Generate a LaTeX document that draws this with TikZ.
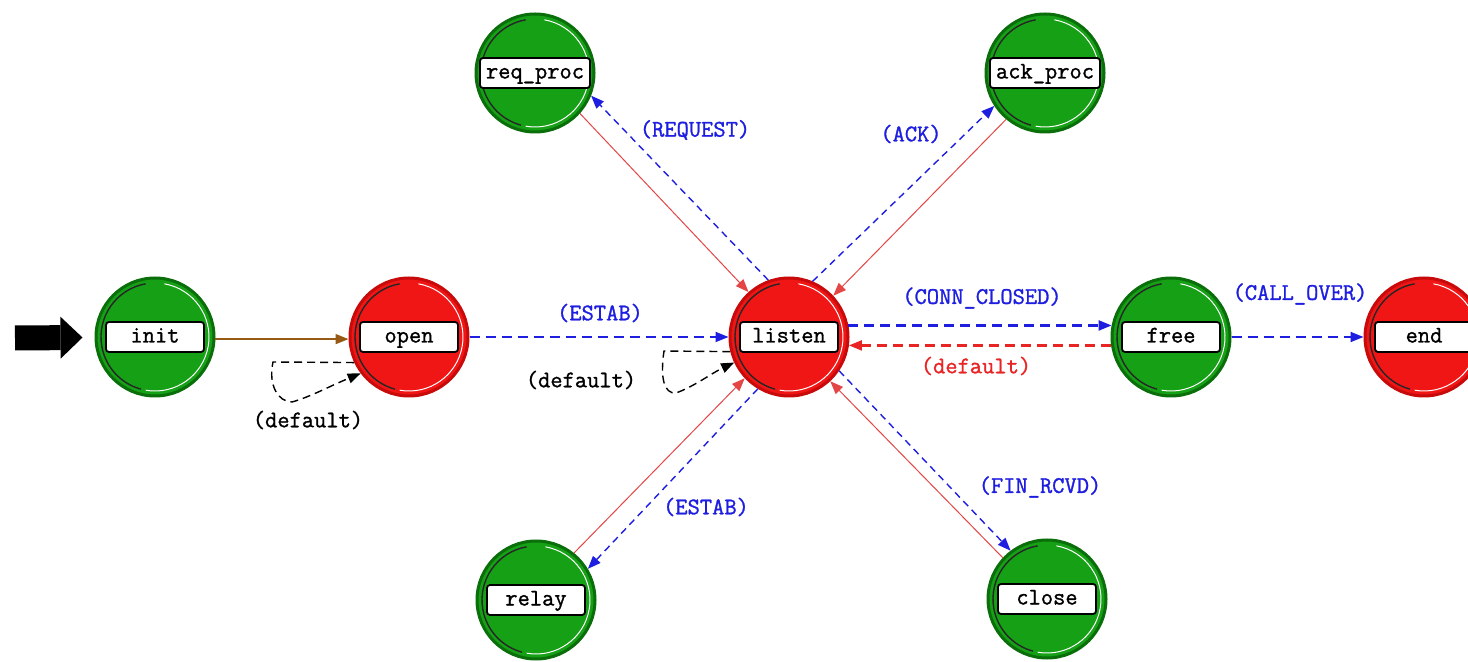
\documentclass[tikz,border=0pt]{standalone}
\usepackage{fontspec}
\newfontfamily\lblfont{Latin Modern Mono}[FakeBold=1.2]
\usetikzlibrary{arrows.meta}
\definecolor{stgreen}{RGB}{22,160,22}
\definecolor{stgreenrim}{RGB}{10,110,10}
\definecolor{stred}{RGB}{240,22,22}
\definecolor{stredrim}{RGB}{200,10,10}
\definecolor{edgeblue}{RGB}{30,30,225}
\definecolor{edgered}{RGB}{232,36,36}
\definecolor{softred}{RGB}{228,70,70}
\definecolor{brownline}{RGB}{150,90,20}
\newcommand\fsmstate[5]{%
  \node[fsmcircle, fill=#3, draw=#4] (#1) at (#2) {};
  \draw[black!85, line width=0.7pt] (#1.center) ++(100:27pt) arc (100:255:27pt);
  \draw[white, line width=0.5pt] (#1.center) ++(80:27pt) arc (80:-100:27pt);
  \node[namebox] (#1-name) at (#1.center) {#5};
}
\tikzset{
  x=0.5pt, y=-0.5pt,
  fsmcircle/.style={circle, minimum size=59pt, inner sep=0pt, line width=1.5pt},
  namebox/.style={rectangle, rounded corners=1.5pt, draw=black, line width=0.9pt, fill=white,
    minimum width=49pt, minimum height=15pt, inner xsep=3pt, inner ysep=1pt,
    text height=7.5pt, text depth=2pt,
    font=\lblfont\fontsize{11.9}{13}\selectfont},
  tip/.style={-{Triangle[length=6.5pt,width=5pt]}},
  bluediag/.style={tip, draw=edgeblue, line width=0.7pt, dash pattern=on 3.5pt off 2.5pt},
  bluehor/.style={tip, draw=edgeblue, line width=0.9pt, dash pattern=on 5pt off 3pt},
  redsolid/.style={tip, draw=softred, line width=0.5pt},
  reddash/.style={tip, draw=edgered, line width=1.1pt, dash pattern=on 5pt off 3pt},
  loopedge/.style={tip, draw=black, line width=0.7pt, dash pattern=on 4pt off 2.5pt},
  brownedge/.style={tip, draw=brownline, line width=0.8pt},
  initarrow/.style={line width=12.5pt, draw=black, -{Triangle[length=11pt,width=21pt,line width=0pt]}, shorten >=6pt},
  elabel/.style={font=\lblfont\fontsize{11.9}{13}\selectfont, text=edgeblue, inner sep=1pt},
  blabel/.style={font=\lblfont\fontsize{11.9}{13}\selectfont, text=black, inner sep=1pt},
  rlabel/.style={font=\lblfont\fontsize{11.9}{13}\selectfont, text=edgered, inner sep=1pt},
}
\begin{document}
\begin{tikzpicture}
\useasboundingbox (0,0) rectangle (1468,662);
\clip (0,0) rectangle (1468,662);
\fill[white] (0,0) rectangle (1468,662);

\coordinate (initstart) at (15,338);

\fsmstate{init}{155,337}{stgreen}{stgreenrim}{init}
\fsmstate{open}{409,337}{stred}{stredrim}{open}
\fsmstate{listen}{789,337}{stred}{stredrim}{listen}
\fsmstate{free}{1171,337}{stgreen}{stgreenrim}{free}
\fsmstate{end}{1424,337}{stred}{stredrim}{end}
\fsmstate{reqproc}{535,73}{stgreen}{stgreenrim}{req\_proc}
\fsmstate{ackproc}{1045,73}{stgreen}{stgreenrim}{ack\_proc}
\fsmstate{relay}{536,600}{stgreen}{stgreenrim}{relay}
\fsmstate{close}{1047,599}{stgreen}{stgreenrim}{close}

\draw[initarrow] (initstart) -- (init);
\draw[brownedge] (init.-2) -- (open.182);

% open self loop
\coordinate (ol1) at (273,362);
\coordinate (ol2) at (292,402);
\draw[loopedge] (open.205) -- (ol1) .. controls (268,385) and (278,402) .. (ol2)
  .. controls (310,397) and (330,386) .. (open.217);

\draw[bluehor] (open) -- (listen);

% listen self loop
\coordinate (ll1) at (664,351);
\coordinate (ll2) at (676,393);
\draw[loopedge] (listen.194) -- (ll1) .. controls (660,378) and (664,394) .. (ll2)
  .. controls (695,386) and (712,373) .. (listen.205);

\draw[bluediag] (listen.110) -- (reqproc.-22);
\draw[redsolid] (reqproc.-42) -- (listen.132);
\draw[bluediag] (listen.67) -- (ackproc.-147);
\draw[redsolid] (ackproc.-130) -- (listen.43);
\draw[bluediag] (listen.-121) -- (relay.31);
\draw[redsolid] (relay.51) -- (listen.-137);
\draw[bluediag] (listen.-34) -- (close.127);
\draw[redsolid] (close.137) -- (listen.-47);

\draw[bluehor, line width=1.1pt] (listen.11) -- (free.169);
\draw[reddash] (free.188) -- (listen.-8);
\draw[bluehor] (free) -- (end);

% labels
\node[blabel] (l-def1) at (308,420) {(default)};
\node[elabel] (l-estab1) at (600,313) {(ESTAB)};
\node[blabel] (l-def2) at (581,380) {(default)};
\node[elabel] (l-req) at (695,130) {(REQUEST)};
\node[elabel] (l-ack) at (911,134) {(ACK)};
\node[elabel] (l-conn) at (982,298) {(CONN\_CLOSED)};
\node[rlabel] (l-def3) at (976,366) {(default)};
\node[elabel] (l-call) at (1300,294) {(CALL\_OVER)};
\node[elabel] (l-estab2) at (706,507) {(ESTAB)};
\node[elabel] (l-fin) at (1040,487) {(FIN\_RCVD)};
\end{tikzpicture}
\end{document}
